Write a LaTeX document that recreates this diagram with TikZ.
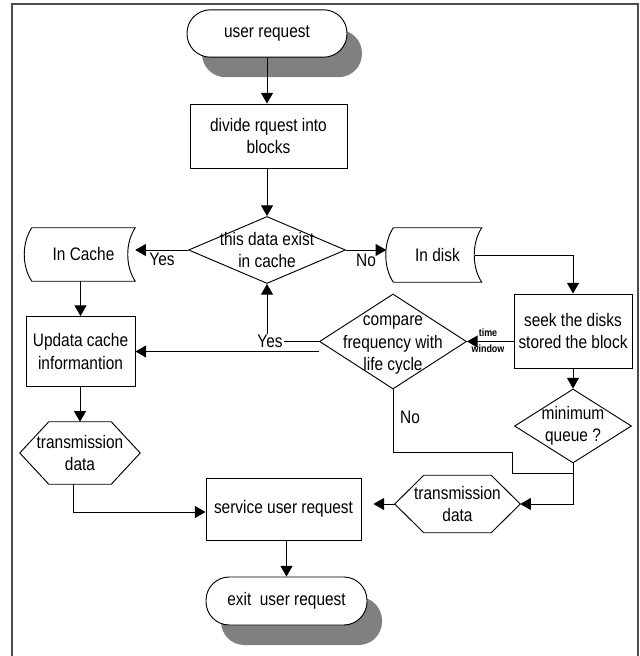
\documentclass[tikz,border=0pt]{standalone}
\usepackage{fontspec}
\setmainfont{Liberation Sans}[FakeStretch=0.85]
\usepackage{tikz}
\usetikzlibrary{positioning,calc,shapes.geometric,arrows.meta,shadows}

\begin{document}
\begin{tikzpicture}[
		x=0.03cm, y=-0.03cm,
		font=\fontsize{15.5}{19}\selectfont,
		% Khối bắt đầu / kết thúc (có bóng xám)
		term/.style={
			rectangle, rounded corners=0.7cm, draw=black, line width=0.8pt, fill=white,
			minimum width=4.8cm, minimum height=1.42cm,
			drop shadow={shadow xshift=0.45cm, shadow yshift=-0.6cm, fill=black!50, opacity=1}
		},
		% Khối xử lý
		proc/.style={rectangle, draw=black, line width=0.8pt, align=center, inner sep=2pt},
		% Khối quyết định (chữ đặt riêng)
		dec/.style={diamond, draw=black, line width=0.8pt, inner sep=0pt},
		% Khối dữ liệu lưu trữ, khối lục giác (viền vẽ sau)
		store/.style={rectangle, inner sep=0pt},
		hexa/.style={rectangle, inner sep=0pt, align=center},
		txt/.style={align=center, inner sep=1pt},
		small/.style={font=\fontsize{9}{9}\selectfont\bfseries, inner sep=1pt},
		conn/.style={line width=0.8pt},
		arr/.style={-{Triangle[length=0.32cm, width=0.36cm]}, line width=0.8pt}
	]
	\useasboundingbox (0,0) rectangle (639,656);
	
	% --- KHUNG ---
	\draw[line width=1.2pt, black!70] (12,656) -- (12,4) -- (638,4) -- (638,656);
	
	% --- 1. CÁC KHỐI ---
	\node[term] (start) at (267,33.5) {user request};
	\node[proc, minimum width=4.71cm, minimum height=1.92cm] (divide) at (268.5,136) {divide rquest into\\blocks};
	\node[dec, minimum width=4.71cm, minimum height=2.01cm] (d1) at (267,250) {};
	\node[txt] (d1txt) at (d1) {this data exist\\in cache};
	
	\node[store, minimum width=3.09cm, minimum height=1.59cm] (cache) at (83.5,254.5) {In Cache};
	\node[store, minimum width=2.64cm, minimum height=1.62cm] (disk) at (437.5,255) {In disk};
	
	\node[proc, minimum width=3.27cm, minimum height=2.1cm] (upd) at (80.5,351.5) {Updata cache\\informantion};
	\node[hexa, minimum width=3.6cm, minimum height=1.86cm] (tx1) at (80,453) {transmission\\data};
	\node[proc, minimum width=4.65cm, minimum height=1.86cm] (service) at (283.5,509) {service user request};
	\node[term, minimum width=4.83cm, minimum height=1.44cm] (exit) at (286.5,601) {exit\ \ user request};
	
	\node[proc, minimum width=3.54cm, minimum height=2.22cm] (seek) at (573,331) {seek the disks\\stored the block};
	\node[dec, minimum width=4.41cm, minimum height=2.85cm] (d2) at (393,341.5) {};
	\node[txt] (d2txt) at (393,345) {compare\\frequency with\\life cycle};
	\node[dec, minimum width=3.51cm, minimum height=2.22cm] (d3) at (573,426) {};
	\node[txt] (d3txt) at (d3) {minimum\\queue ?};
	\node[hexa, minimum width=3.75cm, minimum height=1.71cm] (tx2) at (457.5,504) {transmission\\data};
	
	% Viền khối lưu trữ
	\foreach \n in {cache,disk} {
		\draw[conn] (\n.north west) -- (\n.north east)
		.. controls ([shift={(-0.3cm,-0.45cm)}]\n.north east) and ([shift={(-0.3cm,0.45cm)}]\n.south east) .. (\n.south east)
		-- (\n.south west)
		.. controls ([shift={(-0.3cm,0.45cm)}]\n.south west) and ([shift={(-0.3cm,-0.45cm)}]\n.north west) .. cycle;
	}
	% Viền khối lục giác
	\foreach \n in {tx1,tx2} {
		\draw[conn] ([xshift=0.87cm]\n.north west) -- ([xshift=-0.87cm]\n.north east) -- (\n.east)
		-- ([xshift=-0.87cm]\n.south east) -- ([xshift=0.87cm]\n.south west) -- (\n.west) -- cycle;
	}
	
	% --- 2. MŨI TÊN ---
	\draw[arr] (start.south) -- (start.south |- divide.north);
	\draw[arr] (divide.south -| d1.north) -- (d1.north);
	\draw[arr] (d1.west) -- (cache.east |- d1.west);
	\node[txt] (yes1) at (162,259) {Yes};
	\draw[arr] (d1.east) -- ($(disk.west |- d1.east)+(-7,0)$);
	\node[txt] (no1) at (366,260) {No};
	
	\draw[arr] (cache.south -| upd.north) -- (upd.north);
	\draw[arr] (upd.south -| tx1.north) -- (tx1.north);
	\draw[arr] ([xshift=-0.21cm]tx1.south) |- ([yshift=-0.09cm]service.west);
	\draw[arr] (service.south -| exit.north) -- (exit.north);
	
	\draw[arr] ($(disk.east)+(-7,0)$) -| (seek.north);
	\draw[arr] (seek.west |- d2.east) -- (d2.east);
	\node[small] (tw1) at (488,333) {time};
	\node[small] (tw2) at (488,349) {window};
	\draw[arr] (seek.south) -- (d3.north);
	\draw[arr] (d3.south) |- (tx2.east);
	\draw[arr] (tx2.west) -- ($(service.east |- tx2.west)+(12,0)$);
	
	% nhánh No
	\coordinate (nojoin) at (573,473);
	\draw[conn] (d2.south) |- (512,452) |- (nojoin);
	\node[txt] (no2) at (410,417) {No};
	
	% nhánh Yes
	\node[txt] (yes2) at (270,341.5) {Yes};
	\draw[conn] (d2.west) -- (yes2.east);
	\draw[arr] (yes2.north -| d1.south) -- (d1.south);
	\draw[arr] ([yshift=-0.3cm]d2.west) -- (upd.east);
\end{tikzpicture}
\end{document}
